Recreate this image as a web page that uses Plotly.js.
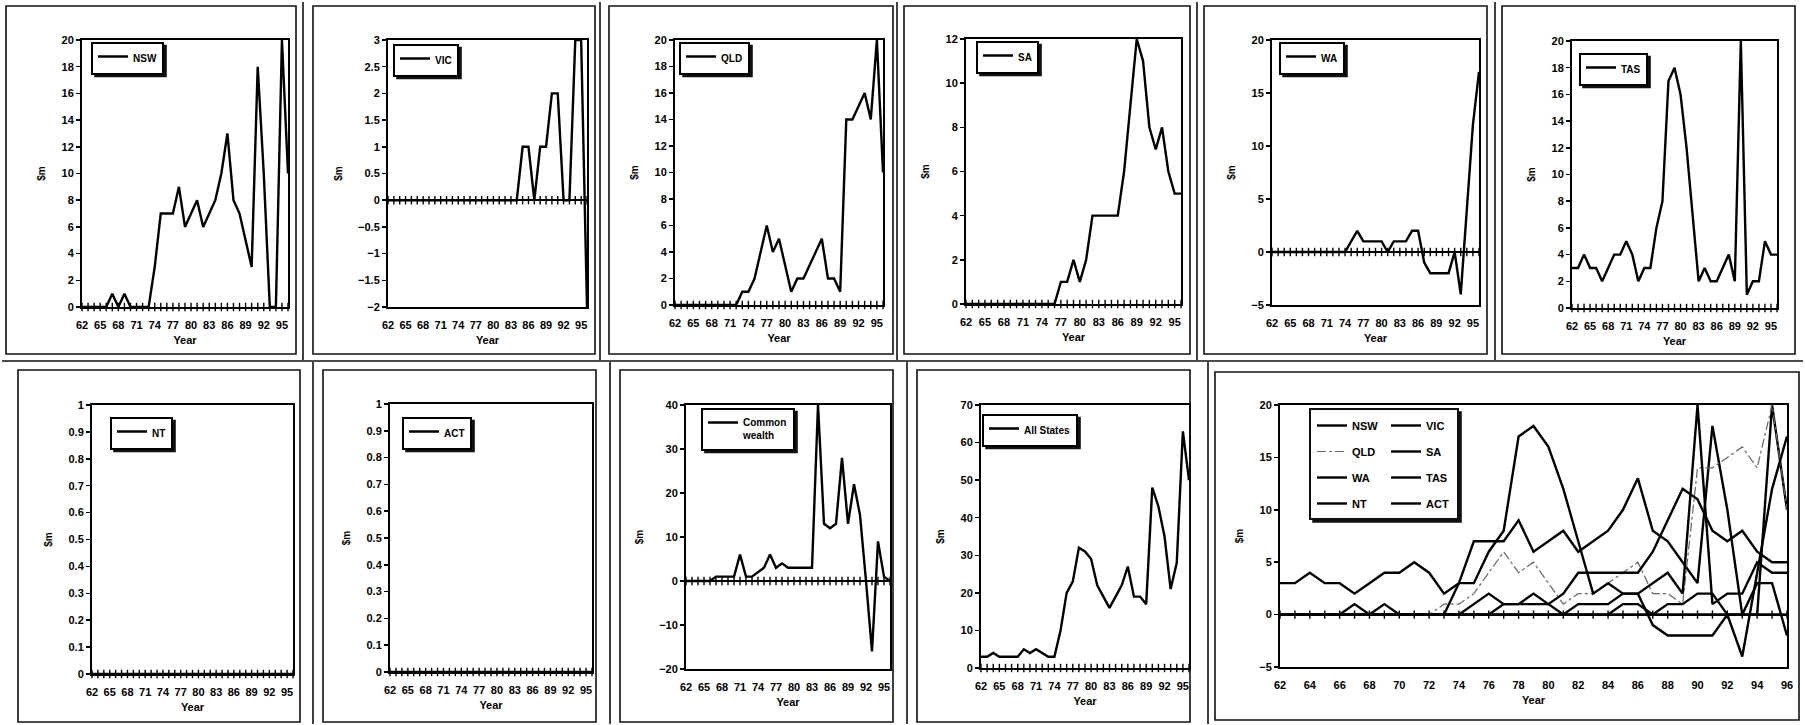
<!DOCTYPE html>
<html><head><meta charset="utf-8">
<script src="https://cdn.plot.ly/plotly-3.0.1.min.js"></script>
<style>html,body{margin:0;padding:0;background:#fff;} #chart{width:1805px;height:725px;}</style>
</head><body><div id="chart"></div>
<script>
// ---- data (values in $m, years 1962-1996) ----
const years = [62,63,64,65,66,67,68,69,70,71,72,73,74,75,76,77,78,79,80,81,82,83,84,85,86,87,88,89,90,91,92,93,94,95,96];
const nsw = [0,0,0,0,0, 1,0,1,0,0, 0,0,3,7,7, 7,9,6,7,8, 6,7,8,10,13, 8,7,5,3,18, 10,0,0,20,10];
const vic = [0,0,0,0,0, 0,0,0,0,0, 0,0,0,0,0, 0,0,0,0,0, 0,0,0,1,1, 0,1,1,2,2, 0,0,3,3,-2];
const qld = [0,0,0,0,0, 0,0,0,0,0, 0,1,1,2,4, 6,4,5,3,1, 2,2,3,4,5, 2,2,1,14,14, 15,16,14,20,10];
const sa  = [0,0,0,0,0, 0,0,0,0,0, 0,0,0,0,0, 1,1,2,1,2, 4,4,4,4,4, 6,9,12,11,8, 7,8,6,5,5];
const wa  = [0,0,0,0,0, 0,0,0,0,0, 0,0,0,1,2, 1,1,1,1,0, 1,1,1,2,2, -1,-2,-2,-2,-2, 0,-4,4,12,17];
const tas = [3,3,4,3,3, 2,3,4,4,5, 4,2,3,3,6, 8,17,18,16,12, 7,2,3,2,2, 3,4,2,20,1, 2,2,5,4,4];
const nt  = [0,0,0,0,0, 0,0,0,0,0, 0,0,0,0,0, 0,0,0,0,0, 0,0,0,0,0, 0,0,0,0,0, 0,0,0,0,0];
const act = [0,0,0,0,0, 0,0,0,0,0, 0,0,0,0,0, 0,0,0,0,0, 0,0,0,0,0, 0,0,0,0,0, 0,0,0,0,0];
const commonwealth = [0,0,0,0,0, 1,1,1,1,6, 1,1,2,3,6, 3,4,3,3,3, 3,3,40,13,12, 13,28,13,22,15, 0,-16,9,1,0];
const allStates = [3,3,4,3,3, 3,3,5,4,5, 4,3,3,10,20, 23,32,31,29,22, 19,16,19,22,27, 19,19,17,48,43, 35,21,28,63,50];

const smallTicks = [62,65,68,71,74,77,80,83,86,89,92,95];
const smallTickText = ['62','65','68','71','74','77','80','83','86','89','92','95'];
const wideTicks = [62,64,66,68,70,72,74,76,78,80,82,84,86,88,90,92,94,96];
const wideTickText = ['62','64','66','68','70','72','74','76','78','80','82','84','86','88','90','92','94','96'];

// ---- layout helpers ----
const W = 1805, H = 725;
const px = x => x / W;
const py = y => 1 - y / H;
const FONT = 'Liberation Sans, Arial, sans-serif';

const panels = [
  {name:'NSW', ys:nsw, yr:[0,20], dt:2, box:[82,288,40,307], leg:[91,58]},
  {name:'VIC', ys:vic, yr:[-2,3], dt:0.5, box:[388,587,40,307], leg:[393,60]},
  {name:'QLD', ys:qld, yr:[0,20], dt:2, box:[675,883,40,305], leg:[679,58]},
  {name:'SA', ys:sa, yr:[0,12], dt:2, box:[966,1181,39,304], leg:[976,57]},
  {name:'WA', ys:wa, yr:[-5,20], dt:5, box:[1272,1479,40,305], leg:[1279,58]},
  {name:'TAS', ys:tas, yr:[0,20], dt:2, box:[1572,1777,41,308], leg:[1579,69]},
  {name:'NT', ys:nt, yr:[0,1], dt:0.1, box:[92,293,405,674], leg:[110,433]},
  {name:'ACT', ys:act, yr:[0,1], dt:0.1, box:[390,592,404,672], leg:[402,433]},
  {name:'Common<br>wealth', ys:commonwealth, yr:[-20,40], dt:10, box:[686,890,405,669], leg:[701,429]},
  {name:'All States', ys:allStates, yr:[0,70], dt:10, box:[981,1189,405,668], leg:[982,430]}
];

const data = [];
const layout = {
  width: W, height: H,
  margin: {l:0, r:0, t:0, b:0},
  paper_bgcolor: '#fff', plot_bgcolor: '#fff',
  font: {family: FONT, size: 11, color: '#000', weight: 700},
  showlegend: true,
  shapes: []
};

function axisPair(n, box, yr, dt, tv, tt) {
  const xs = n === 1 ? '' : String(n);
  layout['xaxis' + xs] = {
    domain: [px(box[0]), px(box[1])], anchor: 'y' + xs,
    range: [62, 96], tickvals: tv, ticktext: tt, ticks: '',
    ticklabelstandoff: 7,
    showline: true, mirror: true, linecolor: '#000', linewidth: 2,
    showgrid: false, zeroline: false, fixedrange: true,
    tickfont: {family: FONT, size: 11, weight: 700},
    title: {text: 'Year', font: {family: FONT, size: 11, weight: 700}, standoff: 6}
  };
  layout['yaxis' + xs] = {
    domain: [py(box[3]), py(box[2])], anchor: 'x' + xs,
    range: yr, dtick: dt, tick0: 0, ticks: 'outside', ticklen: 4, tickwidth: 1.5, tickcolor: '#000',
    showline: true, mirror: true, linecolor: '#000', linewidth: 2,
    showgrid: false, zeroline: true, zerolinecolor: '#000', zerolinewidth: 2, fixedrange: true,
    tickfont: {family: FONT, size: 11, weight: 700},
    title: {text: '$m', font: {family: FONT, size: 10, weight: 700}, standoff: 14}
  };
}

function zeroTicks(xs) {
  data.push({
    x: years, y: years.map(() => 0), mode: 'markers', type: 'scatter',
    xaxis: 'x' + xs, yaxis: 'y' + xs, hoverinfo: 'skip', showlegend: false, cliponaxis: false,
    marker: {symbol: 'line-ns', size: 6, color: '#000', line: {width: 1.4, color: '#000'}}
  });
}

panels.forEach((p, i) => {
  const n = i + 1;
  const xs = n === 1 ? '' : String(n);
  const legId = n === 1 ? 'legend' : 'legend' + n;
  axisPair(n, p.box, p.yr, p.dt, smallTicks, smallTickText);
  zeroTicks(xs);
  data.push({
    x: years, y: p.ys, mode: 'lines', type: 'scatter', name: p.name,
    xaxis: 'x' + xs, yaxis: 'y' + xs, legend: legId, showlegend: true,
    line: {color: '#000', width: 2.4}
  });
  layout[legId] = {
    x: px(p.leg[0]), y: py(p.leg[1]), xanchor: 'left', yanchor: 'middle',
    bgcolor: '#fff', bordercolor: '#000', borderwidth: 2,
    font: {family: FONT, size: 10, weight: 700, color: '#000'},
    itemwidth: 30, valign: 'top', tracegroupgap: 0
  };
});

// ---- combined panel ----
const cn = 11;
axisPair(cn, [1280, 1787, 405, 667], [-5, 20], 5, wideTicks, wideTickText);
zeroTicks('11');
const combo = [
  {name:'NSW', ys:nsw, col:'legend11'},
  {name:'VIC', ys:vic, col:'legend12'},
  {name:'QLD', ys:qld, col:'legend11', dash:true},
  {name:'SA', ys:sa, col:'legend12'},
  {name:'WA', ys:wa, col:'legend11'},
  {name:'TAS', ys:tas, col:'legend12'},
  {name:'NT', ys:nt, col:'legend11'},
  {name:'ACT', ys:act, col:'legend12'}
];
combo.forEach((s, k) => {
  data.push({
    x: years, y: s.ys, mode: 'lines', type: 'scatter', name: s.name,
    xaxis: 'x11', yaxis: 'y11', legend: s.col, legendgroup: 'g' + k, showlegend: true,
    line: s.dash ? {color: '#666', width: 1.2, dash: 'dashdot'} : {color: '#000', width: 2.4}
  });
});
const comboLeg = {
  yanchor: 'top', xanchor: 'left', y: py(411),
  bgcolor: 'rgba(0,0,0,0)', borderwidth: 0,
  font: {family: FONT, size: 11, weight: 700, color: '#000'},
  itemwidth: 30, tracegroupgap: 7
};
layout.legend11 = Object.assign({}, comboLeg, {x: px(1312)});
layout.legend12 = Object.assign({}, comboLeg, {x: px(1386)});

// ---- frames (scanned page grid) ----
function rect(x0, y0, x1, y1, w, fill) {
  return {type: 'rect', xref: 'paper', yref: 'paper',
    x0: px(x0), x1: px(x1), y0: py(y1), y1: py(y0),
    line: {color: '#111', width: w || 1.6}, fillcolor: fill || 'rgba(0,0,0,0)', layer: 'above'};
}
function vline(x, y0, y1) {
  layout.shapes.push({type: 'line', xref: 'paper', yref: 'paper',
    x0: px(x), x1: px(x), y0: py(y1), y1: py(y0), line: {color: '#111', width: 1.6}, layer: 'above'});
}
function hline(y, x0, x1) {
  layout.shapes.push({type: 'line', xref: 'paper', yref: 'paper',
    x0: px(x0), x1: px(x1), y0: py(y), y1: py(y), line: {color: '#111', width: 1.6}, layer: 'above'});
}
// chart-area boxes
[[6,6,296,354],[313,6,595,354],[609,6,893,354],[904,6,1190,354],[1204,6,1487,354],[1502,6,1795,354],
 [18,370,300,722],[323,370,596,722],[620,370,893,722],[917,370,1190,722],[1215,372,1799,720]]
  .forEach(b => layout.shapes.push(rect(b[0], b[1], b[2], b[3])));
// page grid lines
vline(303, 2, 360); vline(600, 2, 360); vline(897, 2, 360); vline(1197, 2, 360); vline(1495, 2, 360);
vline(313, 362, 724); vline(610, 362, 724); vline(907, 362, 724); vline(1208, 362, 724);
hline(361, 2, 1803);
// combined legend box: shadow then white box (legend text sits above)
layout.shapes.push(rect(1313, 412, 1461, 522, 0, '#111'));
layout.shapes.push(rect(1310, 409, 1458, 519, 2, '#fff'));

const gd = document.getElementById('chart');
Plotly.newPlot(gd, data, layout, {displayModeBar: false, staticPlot: true}).then(() => {
  // drop shadows behind the small legend boxes, sized from the rendered legends
  const host = gd.getBoundingClientRect();
  const extra = [];
  gd.querySelectorAll('.infolayer rect.bg').forEach(r => {
    const b = r.getBoundingClientRect();
    if (b.width < 5 || b.height < 5) return;
    const x0 = b.left - host.left, y0 = b.top - host.top;
    if (x0 > 1300 && y0 > 400) return; // combined legend handled by shapes
    extra.push(rect(x0 + 3, y0 + 3, x0 + b.width + 3, y0 + b.height + 3, 0, '#111'));
  });
  return Plotly.relayout(gd, {shapes: layout.shapes.concat(extra)});
});
</script>
</body></html>
